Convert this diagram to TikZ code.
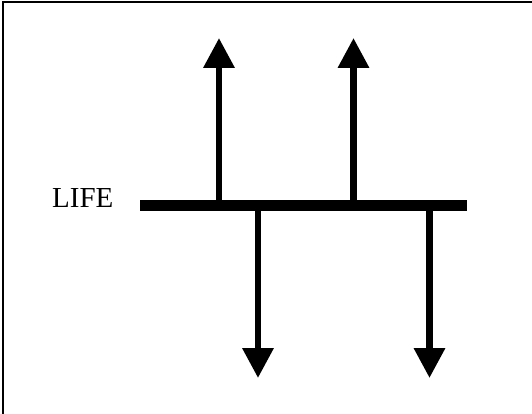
\documentclass[tikz,border=0pt]{standalone}
\usepackage{fontspec}
\setmainfont{Liberation Serif}
\usetikzlibrary{arrows.meta}
\tikzset{
  frameline/.style={line width=2pt},
  lifeline/.style={line width=11pt},
  branch/.style={line width=6.5pt, -{Triangle[width=30pt,length=30pt]}},
  lbl/.style={anchor=base west, inner sep=0pt, font=\fontsize{29pt}{32pt}\selectfont}
}
\begin{document}
\begin{tikzpicture}[x=1pt,y=-1pt]
  \useasboundingbox (0,0) rectangle (532,414);
  % outer frame
  \draw[frameline] (3,2) rectangle (540,420);
  % label
  \node[lbl] (life) at (52,207) {LIFE};
  % main line
  \coordinate (barL) at (140,205.5);
  \coordinate (barR) at (467,205.5);
  \draw[lifeline] (barL) -- (barR);
  % branch roots on the line
  \coordinate (u1) at (219,205.5);
  \coordinate (u2) at (353.5,205.5);
  \coordinate (d1) at (258,205.5);
  \coordinate (d2) at (429.5,205.5);
  % branch tips
  \coordinate (u1t) at (219,38);
  \coordinate (u2t) at (353.5,38);
  \coordinate (d1t) at (258,378);
  \coordinate (d2t) at (429.5,378);
  \draw[branch] (u1) -- (u1t);
  \draw[branch] (u2) -- (u2t);
  \draw[branch] (d1) -- (d1t);
  \draw[branch] (d2) -- (d2t);
\end{tikzpicture}
\end{document}
